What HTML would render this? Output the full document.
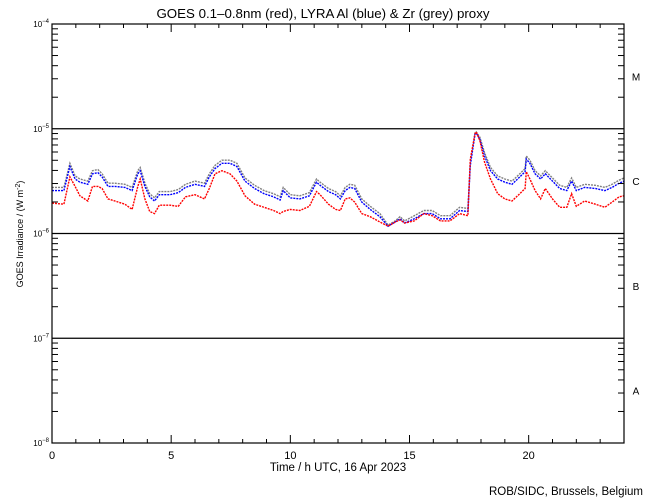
<!DOCTYPE html>
<html><head><meta charset="utf-8"><style>
body{margin:0;background:#fff;}
svg{display:block;font-family:"Liberation Sans",sans-serif;}
</style></head><body>
<svg id="chart" width="650" height="500" viewBox="0 0 650 500">
<rect x="0" y="0" width="650" height="500" fill="#fff"/>
<text x="323" y="18" font-size="13.3" text-anchor="middle">GOES 0.1–0.8nm (red), LYRA Al (blue) &amp; Zr (grey) proxy</text>
<g id="grid"></g>
<g id="series"></g>
<g id="axes"></g>
<text x="338" y="471" font-size="11.5" text-anchor="middle">Time / h UTC, 16 Apr 2023</text>
<text transform="translate(23,234) rotate(-90)" font-size="9" text-anchor="middle">GOES Irradiance / (W m<tspan dy="-3" font-size="7">-2</tspan><tspan dy="3">)</tspan></text>
<text x="643" y="495" font-size="11.5" text-anchor="end">ROB/SIDC, Brussels, Belgium</text>
</svg>
<script>
const times = [0,0.5,0.75,0.97,1.17,1.5,1.7,1.93,2.1,2.35,2.64,3.06,3.36,3.6,3.7,3.9,4.1,4.3,4.5,4.95,5.3,5.6,6.0,6.4,6.6,6.84,7.13,7.47,7.76,8.1,8.5,8.9,9.3,9.57,9.7,10.0,10.4,10.8,11.1,11.25,11.6,11.9,12.1,12.3,12.5,12.7,13.0,13.35,13.76,14.1,14.4,14.6,14.8,15.2,15.6,15.95,16.3,16.7,17.1,17.45,17.55,17.75,17.8,17.95,18.15,18.4,18.7,19.0,19.3,19.63,19.85,19.9,20.05,20.27,20.5,20.7,21.0,21.3,21.6,21.8,22.0,22.35,22.8,23.2,23.5,23.8,24];
const goesLog = [-5.71,-5.72,-5.46,-5.55,-5.64,-5.69,-5.55,-5.55,-5.57,-5.67,-5.69,-5.72,-5.77,-5.55,-5.48,-5.67,-5.79,-5.81,-5.73,-5.73,-5.74,-5.65,-5.63,-5.67,-5.57,-5.43,-5.40,-5.43,-5.50,-5.64,-5.72,-5.75,-5.78,-5.81,-5.79,-5.77,-5.78,-5.74,-5.60,-5.63,-5.72,-5.77,-5.78,-5.67,-5.66,-5.70,-5.81,-5.84,-5.89,-5.93,-5.89,-5.87,-5.90,-5.88,-5.81,-5.83,-5.88,-5.88,-5.81,-5.83,-5.29,-5.05,-5.03,-5.11,-5.32,-5.48,-5.62,-5.67,-5.69,-5.62,-5.57,-5.41,-5.48,-5.59,-5.67,-5.57,-5.67,-5.75,-5.75,-5.62,-5.74,-5.69,-5.72,-5.75,-5.70,-5.65,-5.64];
const alLog = [-5.59,-5.59,-5.36,-5.48,-5.51,-5.53,-5.43,-5.42,-5.46,-5.55,-5.55,-5.56,-5.59,-5.43,-5.40,-5.55,-5.65,-5.69,-5.63,-5.63,-5.61,-5.56,-5.53,-5.55,-5.46,-5.38,-5.33,-5.33,-5.36,-5.50,-5.57,-5.62,-5.65,-5.68,-5.59,-5.66,-5.67,-5.64,-5.51,-5.54,-5.60,-5.63,-5.67,-5.59,-5.56,-5.57,-5.70,-5.77,-5.84,-5.93,-5.89,-5.86,-5.90,-5.86,-5.81,-5.81,-5.86,-5.86,-5.78,-5.79,-5.35,-5.05,-5.04,-5.10,-5.26,-5.40,-5.48,-5.51,-5.53,-5.46,-5.41,-5.29,-5.33,-5.43,-5.48,-5.43,-5.50,-5.57,-5.59,-5.50,-5.59,-5.56,-5.57,-5.59,-5.56,-5.52,-5.50];
const zrLog = [-5.56,-5.56,-5.33,-5.45,-5.48,-5.50,-5.40,-5.39,-5.43,-5.52,-5.52,-5.53,-5.56,-5.40,-5.37,-5.52,-5.62,-5.66,-5.60,-5.60,-5.58,-5.53,-5.50,-5.52,-5.43,-5.35,-5.30,-5.30,-5.33,-5.47,-5.54,-5.59,-5.62,-5.65,-5.56,-5.63,-5.64,-5.61,-5.48,-5.51,-5.57,-5.60,-5.64,-5.56,-5.53,-5.54,-5.67,-5.74,-5.81,-5.92,-5.88,-5.84,-5.88,-5.83,-5.78,-5.78,-5.83,-5.83,-5.75,-5.76,-5.33,-5.04,-5.03,-5.08,-5.23,-5.37,-5.45,-5.48,-5.50,-5.43,-5.38,-5.26,-5.30,-5.40,-5.45,-5.40,-5.47,-5.54,-5.56,-5.47,-5.56,-5.53,-5.54,-5.56,-5.53,-5.49,-5.47];
const yTickExps = [-4,-5,-6,-7,-8];
const xTickLabels = [0,5,10,15,20];
const classLabels = ["M","C","B","A"];

const X0=52,X1=624,Y0=24,Y1=443;
const xScale = t => X0 + t/24*(X1-X0);
const yScale = v => Y0 + (-4 - v)/4*(Y1-Y0);
const NS="http://www.w3.org/2000/svg";
function mk(tag,attrs,parent){const e=document.createElementNS(NS,tag);for(const k in attrs)e.setAttribute(k,attrs[k]);parent.appendChild(e);return e;}
const grid=document.getElementById('grid'),axes=document.getElementById('axes'),series=document.getElementById('series');

[-5,-6,-7].forEach(v=>{
  const l=mk('line',{x1:X0,x2:X1,y1:yScale(v),y2:yScale(v),stroke:'#000','stroke-width':1.2},grid);
  
  
});

const box=mk('rect',{x:X0,y:Y0,width:X1-X0,height:Y1-Y0,fill:'none',stroke:'#000','stroke-width':1.2},axes);



for(let h=0;h<=24;h++){
  const x=xScale(h),len=h%5===0?8:4;
  mk('line',{x1:x,x2:x,y1:Y1,y2:Y1-len,stroke:'#000'},axes);
  mk('line',{x1:x,x2:x,y1:Y0,y2:Y0+len,stroke:'#000'},axes);
}
xTickLabels.forEach(h=>{
  const t=mk('text',{x:xScale(h),y:Y1+16,'font-size':11,'text-anchor':'middle'},axes);
  t.textContent=String(h);
  
  
});
for(let d=-8;d<-4;d++){
  for(let m=2;m<=9;m++){
    const y=yScale(d+Math.log10(m));
    mk('line',{x1:X0,x2:X0+6,y1:y,y2:y,stroke:'#000'},axes);
    mk('line',{x1:X1,x2:X1-6,y1:y,y2:y,stroke:'#000'},axes);
  }
}
yTickExps.forEach(e=>{
  const t=mk('text',{x:X0-3,y:yScale(e)+3,'font-size':8,'text-anchor':'end'},axes);
  t.innerHTML='10<tspan dy="-4" font-size="6">'+(e<0?'−':'')+Math.abs(e)+'</tspan>';
  
  
});
classLabels.forEach((c,i)=>{
  const t=mk('text',{x:636,y:yScale(-4.5-i)+4,'font-size':10,'text-anchor':'middle'},axes);
  t.textContent=c;
  
  
});

function drawSeries(vals,color,name){
  const pts=times.map((t,i)=>xScale(t).toFixed(1)+','+yScale(vals[i]).toFixed(1)).join(' ');
  const p=mk('polyline',{points:pts,fill:'none',stroke:color,'stroke-width':1.4,'stroke-dasharray':'2 1'},series);
  
  
}
drawSeries(zrLog,'#808080','zr-proxy-line');
drawSeries(alLog,'#0000ff','lyra-al-line');
drawSeries(goesLog,'#ff0000','goes-xray-line');
</script>
</body></html>
